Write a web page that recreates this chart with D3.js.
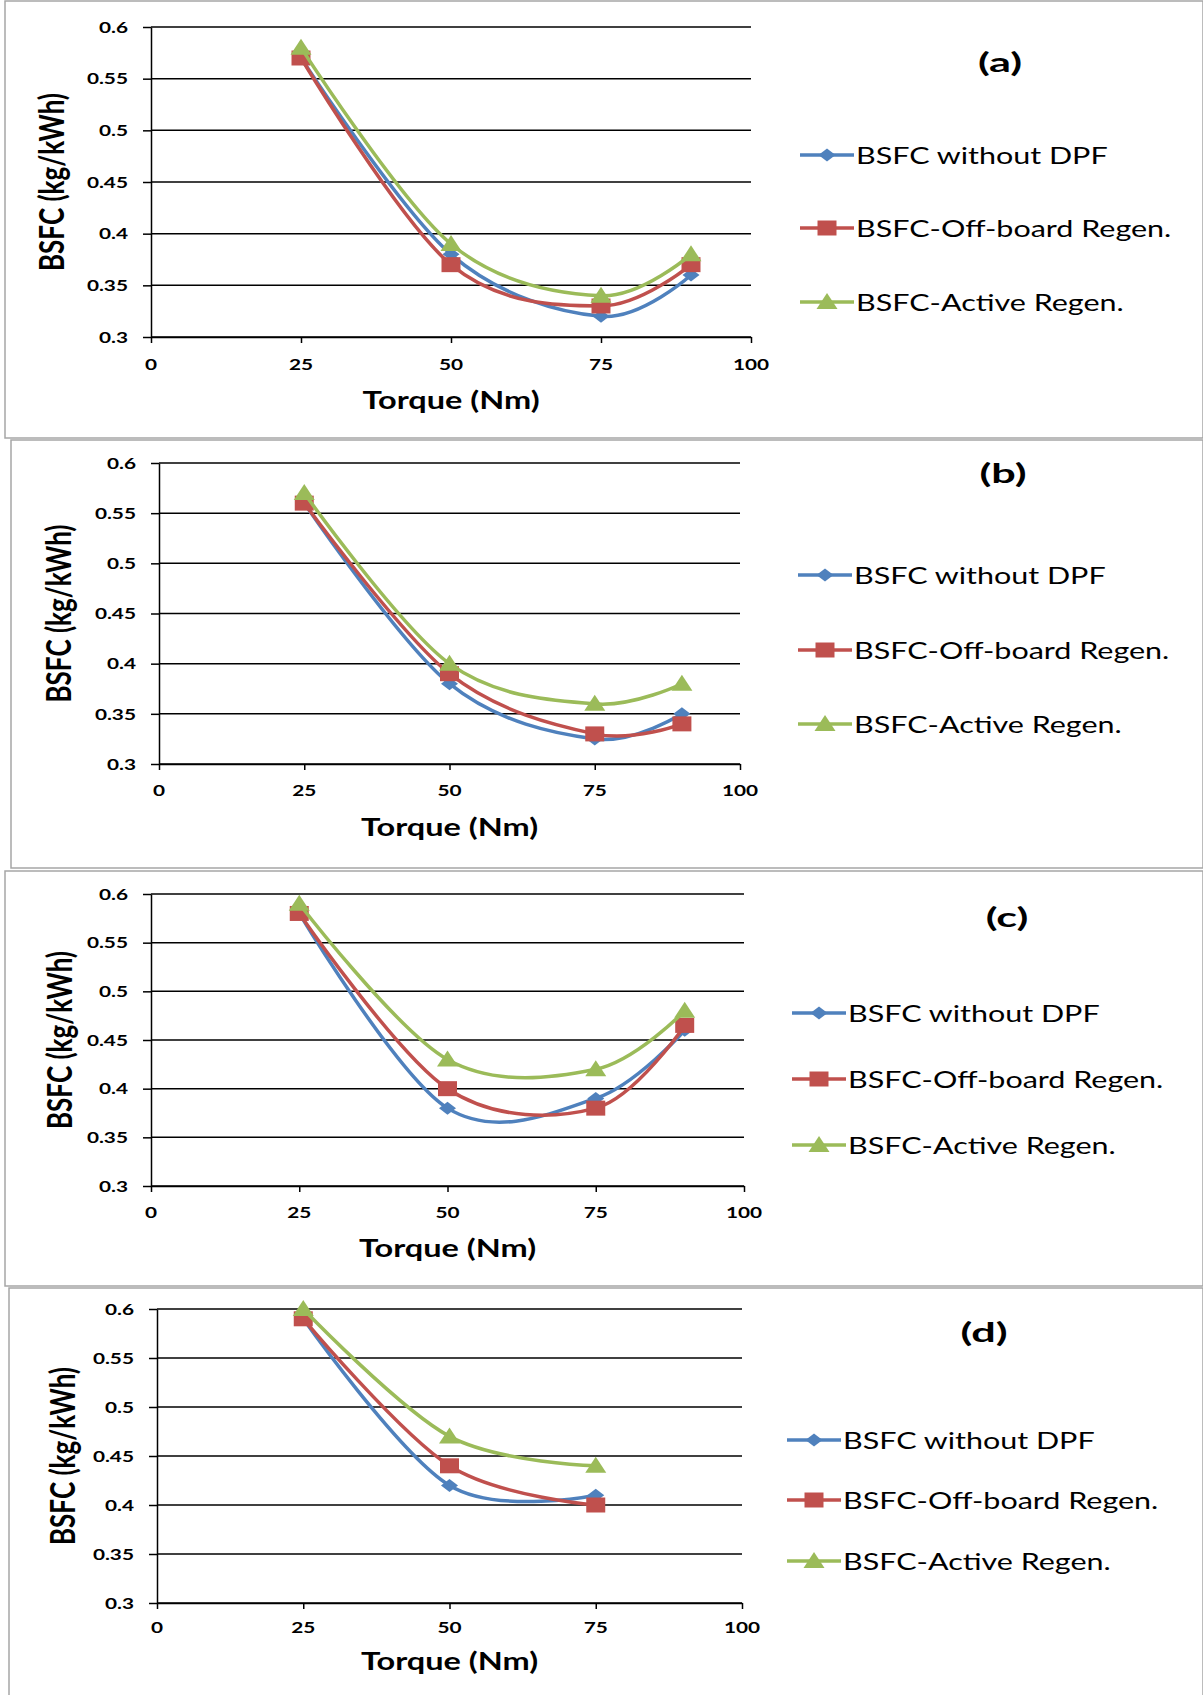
<!DOCTYPE html>
<html><head><meta charset="utf-8">
<script src="https://cdn.jsdelivr.net/npm/d3@7"></script>
<style>html,body{margin:0;padding:0;background:#fff;}svg{display:block;}</style>
</head><body>
<svg id="chart" width="1203" height="1695"></svg>
<script>
// ---------- data ----------
const torque = [25, 50, 75, 90];
const torqueD = [25, 50, 75];
const seriesNames = ["BSFC without DPF", "BSFC-Off-board Regen.", "BSFC-Active Regen."];
const panelLabels = ["(a)", "(b)", "(c)", "(d)"];
const xTicks = [0, 25, 50, 75, 100];
const yTicks = [0.3, 0.35, 0.4, 0.45, 0.5, 0.55, 0.6];
const yTickLabels = ["0.3", "0.35", "0.4", "0.45", "0.5", "0.55", "0.6"];
const xTitle = "Torque (Nm)";
const yTitle = "BSFC (kg/kWh)";

const a_withoutDPF = [0.57, 0.38, 0.32, 0.36];
const a_offBoard   = [0.57, 0.37, 0.33, 0.37];
const a_active     = [0.58, 0.39, 0.34, 0.38];
const b_withoutDPF = [0.56, 0.38, 0.325, 0.35];
const b_offBoard   = [0.56, 0.39, 0.33, 0.34];
const b_active     = [0.57, 0.40, 0.36, 0.38];
const c_withoutDPF = [0.58, 0.38, 0.39, 0.46];
const c_offBoard   = [0.58, 0.40, 0.38, 0.465];
const c_active     = [0.59, 0.43, 0.42, 0.48];
const d_withoutDPF = [0.59, 0.42, 0.41];
const d_offBoard   = [0.59, 0.44, 0.40];
const d_active     = [0.60, 0.47, 0.44];

// ---------- layout / style ----------
const colors = ["#4F81BD", "#C0504D", "#9BBB59"];
const shapes = ["diamond", "square", "triangle"];
const SX = 1.3;               // horizontal stretch of the original picture
const FONT = "Lato, 'Open Sans', sans-serif";

const panels = [
  {x: torque,  s: [a_withoutDPF, a_offBoard, a_active],
   box: [5, 1, 1203, 438], plot: [151, 751, 27, 337], xlabY: 364, titleY: 400, ytX: 52,
   lab: [1000, 62], leg: [800, 854, 856], rows: [155, 228, 302]},
  {x: torque,  s: [b_withoutDPF, b_offBoard, b_active],
   box: [11, 440, 1203, 868], plot: [159, 740, 463, 764], xlabY: 790, titleY: 827, ytX: 59,
   lab: [1003, 473], leg: [798, 852, 854], rows: [575, 650, 724]},
  {x: torque,  s: [c_withoutDPF, c_offBoard, c_active],
   box: [5, 871, 1203, 1286], plot: [151, 744, 894, 1186], xlabY: 1212, titleY: 1248, ytX: 60,
   lab: [1007, 917], leg: [792, 846, 848], rows: [1013, 1079, 1145]},
  {x: torqueD, s: [d_withoutDPF, d_offBoard, d_active],
   box: [9, 1288, 1203, 1696], plot: [157, 742, 1309, 1603], xlabY: 1627, titleY: 1661, ytX: 63,
   lab: [984, 1332], leg: [787, 841, 843], rows: [1440, 1500, 1561]}
];

const svg = d3.select("#chart");

function marker(g, shape, cx, cy, color) {
  let p;
  if (shape === "diamond") {
    const w = 8.5, h = 6.5;
    p = `M${cx},${cy-h}L${cx+w},${cy}L${cx},${cy+h}L${cx-w},${cy}Z`;
  } else if (shape === "square") {
    const w = 9.5, h = 7.5;
    p = `M${cx-w},${cy-h}H${cx+w}V${cy+h}H${cx-w}Z`;
  } else {
    const w = 10.5, h = 8;
    p = `M${cx},${cy-h-1}L${cx+w},${cy+h-1}L${cx-w},${cy+h-1}Z`;
  }
  g.append("path").attr("d", p).attr("fill", color);
}

function label(g, x, y, s, size, weight, anchor, rotate, sx) {
  g.append("text")
    .attr("transform", `translate(${x},${y}) scale(${sx || SX},1)` + (rotate ? " rotate(-90)" : ""))
    .attr("text-anchor", anchor)
    .attr("dy", "0.36em")
    .attr("font-family", FONT)
    .attr("font-size", size)
    .attr("font-weight", weight)
    .attr("fill", "#000")
    .text(s);
}

panels.forEach((P, pi) => {
  const g = svg.append("g");
  const [bx0, by0, bx1, by1] = P.box;
  g.append("rect").attr("x", bx0).attr("y", by0).attr("width", bx1 - bx0).attr("height", by1 - by0)
    .attr("fill", "#fff").attr("stroke", "#a6a6a6").attr("stroke-width", 1.5);

  const [l, r, t, b] = P.plot;
  const x = d3.scaleLinear().domain([0, 100]).range([l, r]);
  const y = d3.scaleLinear().domain([0.3, 0.6]).range([b, t]);

  // gridlines
  g.append("g").selectAll("line").data(yTicks).join("line")
    .attr("x1", x(0)).attr("x2", x(100))
    .attr("y1", d => y(d)).attr("y2", d => y(d))
    .attr("stroke", "#000").attr("stroke-width", 1.5);

  // x axis
  const xa = g.append("g").attr("transform", `translate(0,${y(0.3)})`)
    .call(d3.axisBottom(x).tickValues(xTicks).tickSizeInner(6).tickSizeOuter(0).tickFormat(d3.format("d")));
  xa.select(".domain").attr("stroke", "#000").attr("stroke-width", 1.5);
  xa.selectAll(".tick line").attr("stroke", "#000").attr("stroke-width", 1.5);
  xa.selectAll(".tick text").remove();
  xTicks.forEach(v => label(g, x(v), P.xlabY, String(v), 16, "bold", "middle"));

  // y axis
  const ya = g.append("g").attr("transform", `translate(${x(0)},0)`)
    .call(d3.axisLeft(y).tickValues(yTicks).tickSizeInner(8).tickSizeOuter(0).tickFormat((d, i) => yTickLabels[i]));
  ya.select(".domain").attr("stroke", "#000").attr("stroke-width", 1.5);
  ya.selectAll(".tick line").attr("stroke", "#000").attr("stroke-width", 1.5);
  ya.selectAll(".tick text").remove();
  yTicks.forEach((v, i) => label(g, x(0) - 23, y(v), yTickLabels[i], 16, "bold", "end"));

  // titles
  label(g, (l + r) / 2, P.titleY, xTitle, 25, "bold", "middle");
  label(g, P.ytX, (t + b) / 2, yTitle, 26, "bold", "middle", true);
  label(g, P.lab[0], P.lab[1], panelLabels[pi], 27, "bold", "middle", false, 1.6);

  // series
  const line = d3.line().x(d => x(d[0])).y(d => y(d[1])).curve(d3.curveCardinal.tension(0));
  P.s.forEach((vals, si) => {
    const pts = P.x.map((tv, i) => [tv, vals[i]]);
    g.append("path").attr("d", line(pts)).attr("fill", "none")
      .attr("stroke", colors[si]).attr("stroke-width", 3.5).attr("stroke-linejoin", "round");
    pts.forEach(p => marker(g, shapes[si], x(p[0]), y(p[1]), colors[si]));
  });

  // legend
  seriesNames.forEach((name, si) => {
    const yy = P.rows[si];
    g.append("line").attr("x1", P.leg[0]).attr("x2", P.leg[1]).attr("y1", yy).attr("y2", yy)
      .attr("stroke", colors[si]).attr("stroke-width", 3.5);
    marker(g, shapes[si], (P.leg[0] + P.leg[1]) / 2, yy, colors[si]);
    label(g, P.leg[2], yy, name, 24, "normal", "start", false, 1.27);
  });
});
</script>
</body></html>
